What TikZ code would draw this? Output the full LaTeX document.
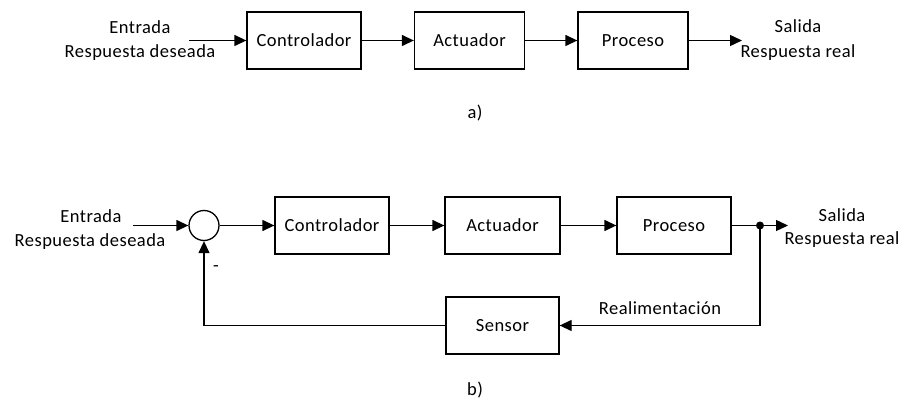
\documentclass[tikz,border=0pt]{standalone}
\usepackage{fontspec}
\setmainfont[LetterSpace=2.5]{Carlito}
\usetikzlibrary{arrows.meta,positioning}
\tikzset{
  blk/.style={draw, line width=1.3pt, minimum height=57pt, inner sep=0pt, text height=12pt, text depth=0pt},
  sig/.style={line width=1.3pt, -{Triangle[length=12pt,width=11pt]}},
  wire/.style={line width=1.3pt},
  lbl/.style={inner sep=0pt, text height=12pt, text depth=0pt},
  sumnode/.style={draw, circle, line width=1.3pt, minimum size=30pt, inner sep=0pt},
}
\begin{document}
\begin{tikzpicture}[x=1pt,y=-1pt, every node/.append style={font=\fontsize{18.5}{22}\selectfont}]
\useasboundingbox (0,0) rectangle (905,401);

% ---- a) open loop ----
\node[blk, minimum width=114pt] (ca) at (304,40.5) {Controlador};
\node[blk, minimum width=110pt] (aa) at (469.5,40.5) {Actuador};
\node[blk, minimum width=110pt] (pa) at (633,40.5) {Proceso};
\coordinate (ina) at (189,40.5);
\coordinate (outa) at (742,40.5);
\node[lbl] (ea) at (140,28) {Entrada};
\node[lbl] (rda) at (140,52) {Respuesta deseada};
\node[lbl] (sa) at (798,27) {Salida};
\node[lbl] (rra) at (798,52) {Respuesta real};
\draw[sig] (ina) -- (ca.west);
\draw[sig] (ca.east) -- (aa.west);
\draw[sig] (aa.east) -- (pa.west);
\draw[sig] (pa.east) -- (outa);
\node[lbl] (la) at (475,113) {a)};

% ---- b) closed loop ----
\node[sumnode] (sum) at (204,225.5) {};
\node[blk, minimum width=114pt] (cb) at (332,225.5) {Controlador};
\node[blk, minimum width=115pt] (ab) at (502.5,225.5) {Actuador};
\node[blk, minimum width=114pt] (pb) at (674,225.5) {Proceso};
\node[blk, minimum width=113pt] (sb) at (502.5,325.5) {Sensor};
\coordinate (inb) at (133,225.5);
\coordinate (outb) at (788,225.5);
\coordinate (br) at (760,225.5);
\coordinate (brd) at (760,325.5);
\coordinate (bl) at (204,325.5);
\node[lbl] (eb) at (91,216) {Entrada};
\node[lbl] (rdb) at (90,240) {Respuesta deseada};
\node[lbl] (sbt) at (842,215) {Salida};
\node[lbl] (rrb) at (842,238) {Respuesta real};
\node[lbl] (fb) at (660,308) {Realimentación};
\node[lbl] (minus) at (216,265) {-};
\draw[sig] (inb) -- (sum.west);
\draw[sig] (sum.east) -- (cb.west);
\draw[sig] (cb.east) -- (ab.west);
\draw[sig] (ab.east) -- (pb.west);
\draw[wire] (pb.east) -- (br);
\draw[sig] (br) -- (outb);
\fill (br) circle (4pt);
\draw[sig] (br) -- (brd) -- (sb.east);
\draw[sig] (sb.west) -- (bl) -- (sum.south);
\node[lbl] (lb) at (475,389) {b)};
\end{tikzpicture}
\end{document}
